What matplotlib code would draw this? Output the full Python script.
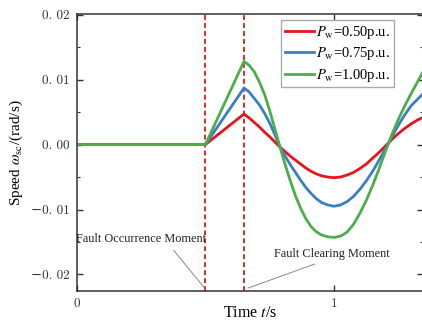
"""
Rotor speed deviation after a grid fault for three wind power levels
"""
import matplotlib
matplotlib.use('Agg')
import matplotlib.pyplot as plt
from matplotlib.ticker import FixedLocator, FixedFormatter, MultipleLocator

plt.rcParams['font.family'] = ['Liberation Serif', 'DejaVu Serif']
plt.rcParams['mathtext.fontset'] = 'stix'

# Data (time in s, speed deviation in rad/s)
time_s = [0, 0.5, 0.65, 0.67, 0.69, 0.71, 0.73, 0.75, 0.77, 0.79,
          0.81, 0.83, 0.85, 0.87, 0.89, 0.91, 0.93, 0.95, 0.975, 1.0,
          1.025, 1.05, 1.075, 1.1, 1.125, 1.15, 1.175, 1.2, 1.225, 1.25,
          1.275, 1.3, 1.325, 1.347]
speed_050 = [0, 0, 0.0047, 0.0041, 0.0034, 0.0027, 0.0019, 0.0012, 0.0004, -0.0004,
             -0.0011, -0.0018, -0.0024, -0.0030, -0.0036, -0.0041, -0.0045, -0.0048, -0.0050, -0.0051,
             -0.0050, -0.0047, -0.0043, -0.0037, -0.0030, -0.0021, -0.0012, -0.0002, 0.0008, 0.0017,
             0.0025, 0.0032, 0.0038, 0.0042]
speed_075 = [0, 0, 0.0087, 0.0081, 0.0071, 0.0061, 0.0048, 0.0033, 0.0015, -0.0004,
             -0.0018, -0.0031, -0.0043, -0.0055, -0.0066, -0.0075, -0.0083, -0.0089, -0.0093, -0.0095,
             -0.0093, -0.0088, -0.0080, -0.0069, -0.0056, -0.0041, -0.0024, -0.0006, 0.0012, 0.0030,
             0.0046, 0.0060, 0.0070, 0.0079]
speed_100 = [0, 0, 0.0128, 0.0122, 0.0112, 0.0096, 0.0077, 0.0052, 0.0024, -0.0004,
             -0.0031, -0.0056, -0.0079, -0.0098, -0.0114, -0.0126, -0.0134, -0.0139, -0.0142, -0.0143,
             -0.0141, -0.0135, -0.0123, -0.0106, -0.0086, -0.0063, -0.0037, -0.0010, 0.0016, 0.0039,
             0.0060, 0.0079, 0.0097, 0.0113]
series_labels = [r'$P_{\mathrm{w}}$=0.50p.u.', r'$P_{\mathrm{w}}$=0.75p.u.', r'$P_{\mathrm{w}}$=1.00p.u.']
fault_times = [0.5, 0.65]

y_ticks = [-0.02, -0.01, 0.0, 0.01, 0.02]
y_tick_labels = ['\u22120. 02', '\u22120. 01', '0. 00', '0. 01', '0. 02']
x_ticks = [0, 1]
x_tick_labels = ['0', '1']

colors = ['#e8141c', '#3a7fc1', '#4cad4b']


def main():
    fig = plt.figure(figsize=(4.22, 3.25), dpi=100)
    ax = fig.add_axes([0.1818, 0.1055, 0.8215, 0.8515])

    for vals, lab, col in zip([speed_050, speed_075, speed_100], series_labels, colors):
        ax.plot(time_s, vals, color=col, linewidth=2.0, label=lab)

    for ft in fault_times:
        ax.axvline(ft, color='#e02a2a', linewidth=1.4, linestyle=(0, (2.5, 1.6)), zorder=1)

    ax.set_xlim(0, 1.347)
    ax.set_ylim(-0.0225, 0.0201)

    ax.xaxis.set_major_locator(FixedLocator(x_ticks))
    ax.xaxis.set_major_formatter(FixedFormatter(x_tick_labels))
    ax.yaxis.set_major_locator(FixedLocator(y_ticks))
    ax.yaxis.set_major_formatter(FixedFormatter(y_tick_labels))
    ax.yaxis.set_minor_locator(MultipleLocator(0.005))
    ax.tick_params(which='both', direction='in', top=True, right=True, color='#333333')
    ax.tick_params(which='major', length=4, width=1.0, labelsize=9.5, pad=5)
    ax.tick_params(which='minor', length=2.5, width=0.8)
    for lab in ax.get_xticklabels() + ax.get_yticklabels():
        lab.set_family(['cmr10', 'DejaVu Serif'])
        lab.set_color('#333333')

    for sp in ax.spines.values():
        sp.set_color('#333333')
        sp.set_linewidth(1.1)

    ax.set_xlabel(r'Time $t$/s', fontsize=11.5)
    ax.xaxis.set_label_coords(0.5, -0.05)
    ax.set_ylabel(r'Speed $\omega_{\mathrm{sc}}$/(rad/s)', fontsize=11)
    ax.yaxis.set_label_coords(-0.15, 0.5)

    leg = ax.legend(loc='upper right', bbox_to_anchor=(0.915, 0.977), fontsize=10.5,
                    frameon=True, fancybox=False, edgecolor='#aaaaaa', framealpha=1,
                    handlelength=2.0, handletextpad=0.15, borderpad=0.25,
                    labelspacing=0.3, borderaxespad=0)
    leg.get_frame().set_linewidth(1.0)

    ax.annotate('Fault Occurrence Moment', xy=(0.499, -0.0222), xytext=(0.25, -0.0146),
                fontsize=8.8, ha='center', va='center', color='#222222',
                arrowprops=dict(arrowstyle='-', color='#888888', lw=0.7,
                                relpos=(0.72, 0), shrinkA=2, shrinkB=0))
    ax.annotate('Fault Clearing Moment', xy=(0.665, -0.0221), xytext=(0.992, -0.0169),
                fontsize=8.8, ha='center', va='center', color='#222222',
                arrowprops=dict(arrowstyle='-', color='#888888', lw=0.7,
                                relpos=(0.44, 0), shrinkA=2, shrinkB=0))

    fig.savefig('out.png', dpi=100)
    plt.close(fig)


if __name__ == "__main__":
    main()
